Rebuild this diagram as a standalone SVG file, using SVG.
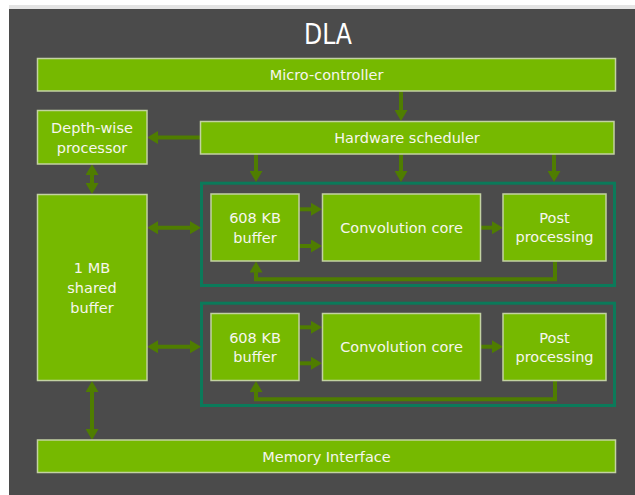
<svg xmlns="http://www.w3.org/2000/svg" width="635" height="495" viewBox="0 0 635 495">
<defs>
<style>
.box{fill:#76b900;stroke:#c3d2a2;stroke-width:1.5}
.cl{fill:none;stroke:#0b7a5a;stroke-width:3}
.t{font-family:"DejaVu Sans",Verdana,sans-serif;font-size:14.5px;fill:#f6f6ee;text-anchor:middle}
.ttl{font-family:"DejaVu Sans",Verdana,sans-serif;font-size:29px;fill:#ffffff;text-anchor:middle}
.a{fill:none;stroke:#4f7d00;stroke-width:4;marker-end:url(#ah)}
.d{fill:none;stroke:#4f7d00;stroke-width:4;marker-start:url(#ah);marker-end:url(#ah)}
</style>
<marker id="ah" markerUnits="userSpaceOnUse" markerWidth="12" markerHeight="13" refX="5" refY="6.5" orient="auto-start-reverse" viewBox="0 0 12 13">
<path d="M0,0 L11,6.5 L0,13 z" fill="#4f7d00"/>
</marker>
</defs>
<rect x="0" y="0" width="635" height="495" fill="#ffffff"/>
<rect x="9" y="5" width="626" height="4" fill="#e4e4e4"/>
<rect x="9" y="9" width="626" height="486" fill="#4b4b4b"/>
<text class="ttl" x="328" y="44" textLength="48" lengthAdjust="spacingAndGlyphs">DLA</text>

<g id="clusters">
<rect class="cl" x="201.5" y="183.2" width="413" height="102.3"/>
<rect class="cl" x="201.5" y="303.2" width="413" height="102.3"/>
</g>

<g id="connectors">
<line class="a" x1="401" y1="91" x2="401" y2="115"/>
<line class="a" x1="200" y1="137.5" x2="153" y2="137.5"/>
<line class="a" x1="256" y1="154" x2="256" y2="176"/>
<line class="a" x1="401" y1="154" x2="401" y2="176"/>
<line class="a" x1="554" y1="154" x2="554" y2="176"/>
<line class="d" x1="92" y1="170" x2="92" y2="188"/>
<line class="d" x1="153" y1="227.7" x2="195" y2="227.7"/>
<line class="d" x1="153" y1="346.7" x2="195" y2="346.7"/>
<line class="d" x1="92" y1="387" x2="92" y2="434"/>
<line class="a" x1="299" y1="209.3" x2="316" y2="209.3"/>
<line class="a" x1="299" y1="246" x2="316" y2="246"/>
<line class="a" x1="481" y1="227.7" x2="497" y2="227.7"/>
<polyline class="a" points="555,261 555,279.3 256,279.3 256,267.5"/>
<line class="a" x1="299" y1="327.3" x2="316" y2="327.3"/>
<line class="a" x1="299" y1="363.3" x2="316" y2="363.3"/>
<line class="a" x1="481" y1="346.7" x2="497" y2="346.7"/>
<polyline class="a" points="555,380.5 555,399.3 256,399.3 256,387"/>
</g>

<g id="micro-controller">
<rect class="box" x="37.5" y="58.5" width="578" height="32.5"/>
<text class="t" x="326.5" y="79.5">Micro-controller</text>
</g>
<g id="hardware-scheduler">
<rect class="box" x="200.5" y="121.5" width="413.5" height="32.5"/>
<text class="t" x="407" y="142.5">Hardware scheduler</text>
</g>
<g id="depth-wise-processor">
<rect class="box" x="37.5" y="110.5" width="109.5" height="53.5"/>
<text class="t" x="92" y="132.5">Depth-wise</text>
<text class="t" x="92" y="152.5">processor</text>
</g>
<g id="shared-buffer">
<rect class="box" x="37.5" y="194.5" width="109.5" height="186"/>
<text class="t" x="92" y="273.3">1 MB</text>
<text class="t" x="92" y="293.3">shared</text>
<text class="t" x="92" y="312.5">buffer</text>
</g>
<g id="buffer-1">
<rect class="box" x="211" y="194" width="88" height="67"/>
<text class="t" x="255" y="223.3">608 KB</text>
<text class="t" x="255" y="242.7">buffer</text>
</g>
<g id="conv-core-1">
<rect class="box" x="322.5" y="194" width="158" height="67"/>
<text class="t" x="401.5" y="232.7">Convolution core</text>
</g>
<g id="post-processing-1">
<rect class="box" x="503" y="194" width="103" height="67"/>
<text class="t" x="554.5" y="223.3">Post</text>
<text class="t" x="554.5" y="242">processing</text>
</g>
<g id="buffer-2">
<rect class="box" x="211" y="313.5" width="88" height="67"/>
<text class="t" x="255" y="342.8">608 KB</text>
<text class="t" x="255" y="362.2">buffer</text>
</g>
<g id="conv-core-2">
<rect class="box" x="322.5" y="313.5" width="158" height="67"/>
<text class="t" x="401.5" y="352.2">Convolution core</text>
</g>
<g id="post-processing-2">
<rect class="box" x="503" y="313.5" width="103" height="67"/>
<text class="t" x="554.5" y="342.8">Post</text>
<text class="t" x="554.5" y="361.5">processing</text>
</g>
<g id="memory-interface">
<rect class="box" x="37.5" y="440" width="578" height="32.5"/>
<text class="t" x="326.5" y="461.5">Memory Interface</text>
</g>
</svg>
